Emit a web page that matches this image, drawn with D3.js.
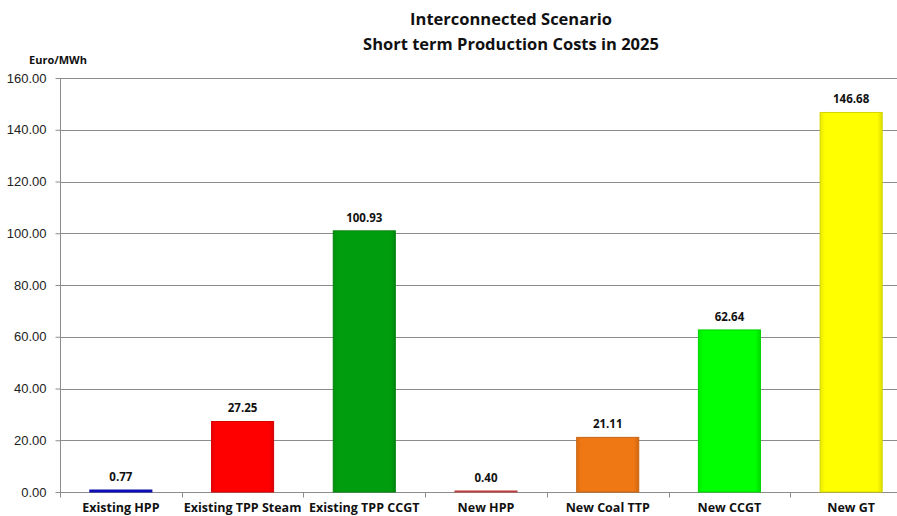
<!DOCTYPE html>
<html>
<head>
<meta charset="utf-8">
<script src="https://cdn.jsdelivr.net/npm/d3@7"></script>
<style>
  html, body { margin: 0; padding: 0; background: #fff; }
  svg { display: block; }
</style>
</head>
<body>
<svg id="chart" width="897" height="516"></svg>
<script>
// Short-term production costs per plant type (Euro/MWh)
const categories = ["Existing HPP", "Existing TPP Steam", "Existing TPP CCGT", "New HPP", "New Coal TTP", "New CCGT", "New GT"];
const values = [0.77, 27.25, 100.93, 0.40, 21.11, 62.64, 146.68];
const barColors = ["#1010c8", "#ff0000", "#009e0f", "#e05050", "#f07814", "#00ff00", "#ffff00"];
const yTicks = [0, 20, 40, 60, 80, 100, 120, 140, 160];
const titleLines = ["Interconnected Scenario", "Short term Production Costs in 2025"];
const yUnit = "Euro/MWh";

const svg = d3.select("#chart");
const margin = { left: 60, top: 78, bottom: 492 };
const plotRight = 912;

const x = d3.scaleBand().domain(categories).range([margin.left, plotRight]).paddingInner(0.49).paddingOuter(0.245);
const y = d3.scaleLinear().domain([0, 160]).range([margin.bottom, margin.top]);

// Gradients give each bar a soft bevel
const defs = svg.append("defs");
barColors.forEach((c, i) => {
  const g = defs.append("linearGradient").attr("id", "bg" + i).attr("x1", 0).attr("x2", 1).attr("y1", 0).attr("y2", 0);
  const base = d3.color(c);
  g.append("stop").attr("offset", "0%").attr("stop-color", base.darker(0.25));
  g.append("stop").attr("offset", "8%").attr("stop-color", base);
  g.append("stop").attr("offset", "92%").attr("stop-color", base);
  g.append("stop").attr("offset", "100%").attr("stop-color", base.darker(0.4));
});

// Horizontal gridlines
svg.append("g")
  .selectAll("line")
  .data(yTicks)
  .join("line")
  .attr("x1", margin.left)
  .attr("x2", plotRight)
  .attr("y1", d => Math.round(y(d)) + 0.5)
  .attr("y2", d => Math.round(y(d)) + 0.5)
  .attr("stroke", "#8c8c8c")
  .attr("stroke-width", 1);

// Y axis
const yAxis = svg.append("g")
  .attr("transform", `translate(${margin.left + 0.5},0)`)
  .call(d3.axisLeft(y).tickValues(yTicks).tickFormat(d3.format(".2f")).tickSize(5).tickPadding(9));
yAxis.select(".domain").attr("stroke", "#8c8c8c").attr("d", `M0,${y(160)}V${y(0)}`);
yAxis.selectAll(".tick line").attr("stroke", "#8c8c8c");
yAxis.selectAll(".tick text")
  .attr("font-family", "'Liberation Sans', Arial, sans-serif")
  .attr("font-size", 13)
  .attr("fill", "#222");

// X axis: tick marks sit between categories
const xAxis = svg.append("g").attr("transform", `translate(0,${Math.round(y(0)) + 0.5})`);
xAxis.append("line").attr("x1", margin.left).attr("x2", plotRight).attr("stroke", "#8c8c8c");
const bounds = categories.map(c => x(c) - x.step() * x.paddingInner() / 2);
bounds.push(plotRight);
xAxis.selectAll(".sep")
  .data(bounds)
  .join("line")
  .attr("class", "sep")
  .attr("x1", d => Math.round(d) + 0.5)
  .attr("x2", d => Math.round(d) + 0.5)
  .attr("y1", 0)
  .attr("y2", 5)
  .attr("stroke", "#8c8c8c");
xAxis.selectAll(".lab")
  .data(categories)
  .join("text")
  .attr("class", "lab")
  .attr("x", d => x(d) + x.bandwidth() / 2)
  .attr("y", 19)
  .attr("text-anchor", "middle")
  .attr("font-family", "'Open Sans', sans-serif")
  .attr("font-weight", "bold")
  .attr("font-size", 12.5)
  .attr("fill", "#111")
  .text(d => d);

// Bars
svg.append("g")
  .selectAll("rect")
  .data(values)
  .join("rect")
  .attr("x", (d, i) => x(categories[i]))
  .attr("width", x.bandwidth())
  .attr("y", d => y(d))
  .attr("height", d => y(0) - y(d))
  .attr("fill", (d, i) => `url(#bg${i})`)
  .attr("stroke", (d, i) => d3.color(barColors[i]).darker(0.5))
  .attr("stroke-width", 1);

// Value labels
svg.append("g")
  .selectAll("text")
  .data(values)
  .join("text")
  .attr("x", (d, i) => x(categories[i]) + x.bandwidth() / 2)
  .attr("y", d => y(d) - 9)
  .attr("text-anchor", "middle")
  .attr("font-family", "'Open Sans', sans-serif")
  .attr("font-weight", "bold")
  .attr("font-size", 11.5)
  .attr("fill", "#111")
  .text(d => d3.format(".2f")(d));

// Unit label
svg.append("text")
  .attr("x", 58)
  .attr("y", 64)
  .attr("text-anchor", "middle")
  .attr("font-family", "'Open Sans', sans-serif")
  .attr("font-weight", "bold")
  .attr("font-size", 11)
  .attr("fill", "#111")
  .text(yUnit);

// Title
svg.append("g")
  .selectAll("text")
  .data(titleLines)
  .join("text")
  .attr("x", 511)
  .attr("y", (d, i) => 25 + i * 25)
  .attr("text-anchor", "middle")
  .attr("font-family", "'Open Sans', sans-serif")
  .attr("font-weight", "bold")
  .attr("font-size", 16.5)
  .attr("fill", "#111")
  .text(d => d);
</script>
</body>
</html>
